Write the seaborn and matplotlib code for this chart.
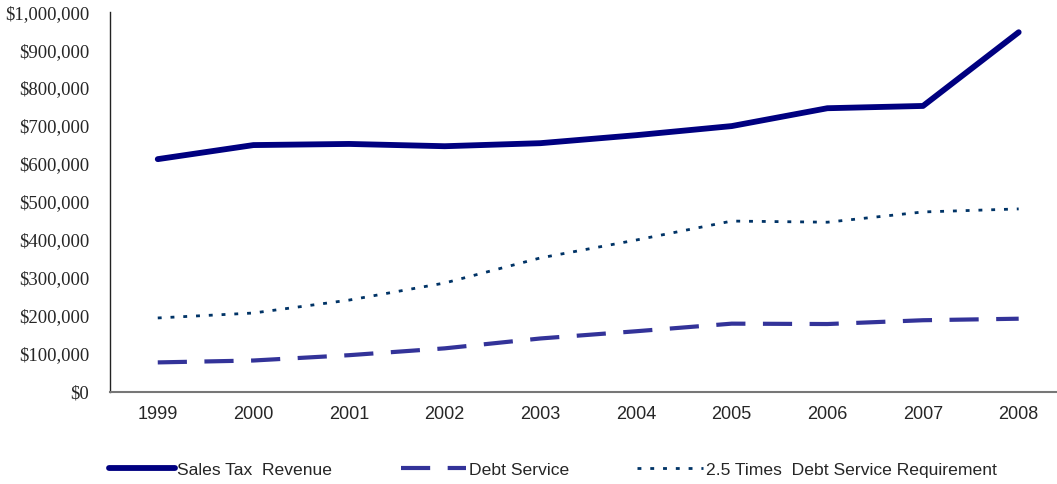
import numpy as np
import pandas as pd
import matplotlib
matplotlib.use("Agg")
import matplotlib.pyplot as plt
import seaborn as sns
from matplotlib.ticker import FuncFormatter, FixedLocator

# values
years = ['1999', '2000', '2001', '2002', '2003', '2004', '2005', '2006', '2007', '2008']
sales_tax = [613000, 650000, 653000, 647000, 655000, 676000, 700000, 747000, 753000, 947000]
debt_service = [78000, 83000, 97000, 115000, 141000, 160000, 180000, 179000, 189000, 193000]
times_2_5 = [195000, 208000, 242000, 287000, 353000, 400000, 450000, 447000, 474000, 482000]

df = pd.DataFrame({
    'pos': np.arange(len(years)),
    'Sales Tax  Revenue': sales_tax,
    'Debt Service': debt_service,
    '2.5 Times  Debt Service Requirement': times_2_5,
})

sns.set_style('white')

fig = plt.figure(figsize=(10.57, 4.84), dpi=100)
ax = fig.add_axes([0.104, 0.19, 0.905, 0.785])

sns.lineplot(data=df, x='pos', y='Sales Tax  Revenue', ax=ax, color='#000080',
             linewidth=4.2, label='Sales Tax  Revenue', solid_capstyle='round')
sns.lineplot(data=df, x='pos', y='Debt Service', ax=ax, color='#333399',
             linewidth=3.0, label='Debt Service')
sns.lineplot(data=df, x='pos', y='2.5 Times  Debt Service Requirement', ax=ax,
             color='#003366', linewidth=2.0, label='2.5 Times  Debt Service Requirement')

ax.lines[1].set_dashes([7.0, 4.2])
ax.lines[2].set_dashes([1.4, 3.2])

ax.set_xlim(-0.5, len(years) - 0.5)
ax.set_ylim(0, 1000000)
ax.set_yticks(np.arange(0, 1000001, 100000))
ax.yaxis.set_major_formatter(FuncFormatter(lambda v, p: '${:,.0f}'.format(v)))
for lab in ax.get_yticklabels():
    lab.set_fontfamily('Liberation Serif')
    lab.set_fontsize(13.5)

ax.set_xticks(df['pos'])
ax.set_xticklabels(years, fontfamily='Liberation Sans', fontsize=13)
ax.xaxis.set_minor_locator(FixedLocator(np.arange(-0.5, len(years) + 0.5, 1)))
ax.tick_params(axis='x', which='major', length=0, pad=10)
ax.tick_params(axis='x', which='minor', length=5, width=1, color='#333333', direction='out')
ax.tick_params(axis='y', length=5, width=1, color='#333333', direction='out', pad=10)
ax.set_xlabel('')
ax.set_ylabel('')

sns.despine(ax=ax)
ax.spines['left'].set_color('#222222')
ax.spines['bottom'].set_color('#777777')
ax.spines['left'].set_linewidth(1)
ax.spines['bottom'].set_linewidth(1.5)

handles, labels = ax.get_legend_handles_labels()
ax.get_legend().remove()
fig.legend(handles, labels, loc='center', bbox_to_anchor=(0.523, 0.029), ncol=3,
           frameon=False, handlelength=3.75, handletextpad=0.15, columnspacing=3.9,
           prop={'family': 'Liberation Sans', 'size': 12.6})

fig.savefig('out.png', dpi=100)
